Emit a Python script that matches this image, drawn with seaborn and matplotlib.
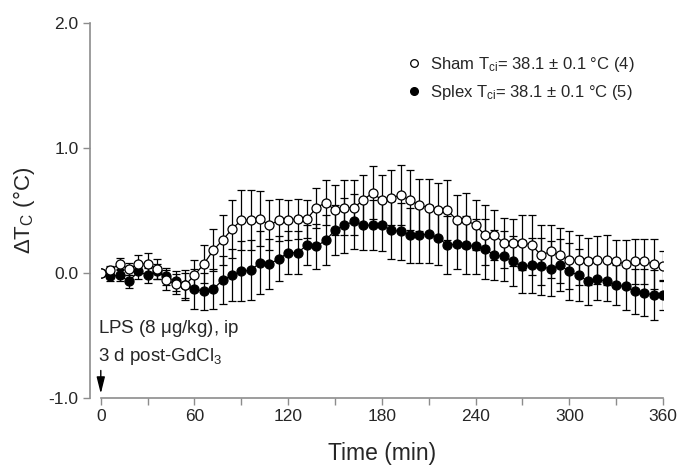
import numpy as np
import pandas as pd
import matplotlib
matplotlib.use('Agg')
import matplotlib.pyplot as plt
from matplotlib.lines import Line2D
import seaborn as sns

# time points every 6 min
time_min = list(range(0, 361, 6))

sham_mean = [0.00, 0.02, 0.07, 0.03, 0.07, 0.07, 0.03, -0.06, -0.09, -0.10,
             -0.02, 0.07, 0.18, 0.26, 0.35, 0.42, 0.42, 0.43, 0.38, 0.42,
             0.42, 0.43, 0.43, 0.52, 0.56, 0.50, 0.52, 0.52, 0.58, 0.64,
             0.58, 0.60, 0.62, 0.58, 0.54, 0.52, 0.50, 0.50, 0.42, 0.42,
             0.38, 0.30, 0.30, 0.24, 0.24, 0.24, 0.22, 0.14, 0.17, 0.14,
             0.10, 0.10, 0.09, 0.10, 0.10, 0.09, 0.07, 0.09, 0.09, 0.07,
             0.05]
sham_sem = [0.00, 0.03, 0.05, 0.05, 0.07, 0.09, 0.08, 0.08, 0.08, 0.10,
            0.12, 0.15, 0.17, 0.20, 0.23, 0.24, 0.24, 0.22, 0.20, 0.17,
            0.16, 0.16, 0.15, 0.16, 0.18, 0.20, 0.22, 0.22, 0.20, 0.21,
            0.20, 0.22, 0.24, 0.24, 0.21, 0.23, 0.22, 0.24, 0.20, 0.22,
            0.20, 0.24, 0.20, 0.20, 0.19, 0.22, 0.24, 0.24, 0.21, 0.22,
            0.23, 0.20, 0.19, 0.19, 0.20, 0.17, 0.19, 0.18, 0.18, 0.20,
            0.12]

splex_mean = [0.00, -0.03, -0.02, -0.07, 0.01, -0.02, 0.01, -0.03, -0.07, -0.10,
              -0.13, -0.15, -0.13, -0.06, -0.02, 0.01, 0.02, 0.08, 0.07, 0.11,
              0.16, 0.16, 0.22, 0.21, 0.26, 0.34, 0.38, 0.41, 0.38, 0.38,
              0.38, 0.34, 0.33, 0.30, 0.30, 0.31, 0.28, 0.22, 0.23, 0.22,
              0.21, 0.19, 0.14, 0.13, 0.09, 0.05, 0.06, 0.05, 0.03, 0.06,
              0.01, -0.02, -0.07, -0.05, -0.07, -0.10, -0.11, -0.15, -0.16, -0.18,
              -0.18]
splex_sem = [0.00, 0.04, 0.05, 0.05, 0.06, 0.06, 0.06, 0.07, 0.08, 0.12,
             0.16, 0.15, 0.16, 0.19, 0.21, 0.24, 0.24, 0.25, 0.20, 0.18,
             0.17, 0.17, 0.16, 0.18, 0.20, 0.20, 0.22, 0.22, 0.20, 0.20,
             0.21, 0.23, 0.23, 0.22, 0.22, 0.23, 0.22, 0.23, 0.20, 0.23,
             0.22, 0.24, 0.20, 0.20, 0.20, 0.21, 0.22, 0.23, 0.22, 0.21,
             0.23, 0.21, 0.19, 0.17, 0.16, 0.16, 0.19, 0.18, 0.19, 0.20,
             0.12]

sham_label = 'Sham T$_{ci}$= 38.1 ± 0.1 °C (4)'
splex_label = 'Splex T$_{ci}$= 38.1 ± 0.1 °C (5)'

df = pd.DataFrame({'time': time_min * 2,
                   'dT': sham_mean + splex_mean,
                   'sem': sham_sem + splex_sem,
                   'group': ['Sham'] * len(time_min) + ['Splex'] * len(time_min)})

sns.set_style('ticks')
plt.rcParams['font.family'] = ['Liberation Sans', 'DejaVu Sans']
plt.rcParams['mathtext.default'] = 'regular'

fig = plt.figure(figsize=(6.81, 4.70), dpi=100)
ax = fig.add_axes([0.148, 0.1538, 0.8256, 0.7979])

styles = {'Splex': 'black', 'Sham': 'white'}
for grp in ['Splex', 'Sham']:
    d = df[df['group'] == grp]
    ax.errorbar(d['time'], d['dT'], yerr=d['sem'], fmt='none', ecolor='black',
                elinewidth=0.9, capsize=3.2, capthick=0.9, zorder=2)
    sns.lineplot(data=d, x='time', y='dT', ax=ax, color='black', lw=0.9,
                 marker='o', markersize=6.5, markerfacecolor=styles[grp],
                 markeredgecolor='black', markeredgewidth=0.9, zorder=3)

ax.set_xlim(0, 360)
ax.set_ylim(-1.0, 2.0)
ax.set_xticks([0, 60, 120, 180, 240, 300, 360])
ax.set_xticks([30, 90, 150, 210, 270, 330], minor=True)
ax.set_yticks([-1.0, 0.0, 1.0, 2.0])
ax.set_yticklabels(['-1.0', '0.0', '1.0', '2.0'])
ax.tick_params(axis='both', which='both', length=5, width=1, color='#8c8c8c',
               labelsize=12.5, pad=3)
ax.tick_params(axis='x', which='minor', length=5)
ax.set_xlabel('Time (min)', fontsize=16.5, labelpad=13)
ax.set_ylabel('ΔT$_C$ (°C)', fontsize=16, labelpad=8)

sns.despine(ax=ax, offset={'left': 8})
ax.spines['left'].set_color('#8c8c8c')
ax.spines['bottom'].set_color('#8c8c8c')
ax.spines['left'].set_linewidth(1.2)
ax.spines['bottom'].set_linewidth(1.2)

handles = [Line2D([], [], ls='none', marker='o', markersize=5.5, markerfacecolor='white',
                  markeredgecolor='black', markeredgewidth=0.9),
           Line2D([], [], ls='none', marker='o', markersize=5.5, markerfacecolor='black',
                  markeredgecolor='black')]
ax.legend(handles, [sham_label, splex_label], loc='upper left',
          bbox_to_anchor=(0.515, 0.955), frameon=False, fontsize=12,
          handletextpad=0.45, labelspacing=0.55, handlelength=1.0)

ax.annotate('', xy=(0, -0.99), xytext=(0, -0.76),
            arrowprops=dict(arrowstyle='-|>,head_length=1.0,head_width=0.25',
                            color='black', lw=1, mutation_scale=10),
            annotation_clip=False)
ax.text(-2, -0.45, 'LPS (8 $\\mu$g/kg), ip', fontsize=13.5, ha='left', va='center')
ax.text(-2, -0.67, '3 d post-GdCl$_3$', fontsize=13.5, ha='left', va='center')

fig.savefig('out.png', dpi=100)
